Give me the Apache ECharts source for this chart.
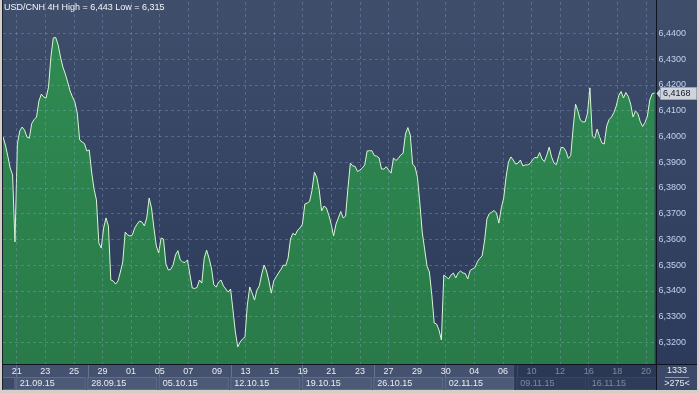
<!DOCTYPE html>
<html><head><meta charset="utf-8">
<script src="https://cdn.jsdelivr.net/npm/echarts@6/dist/echarts.min.js"></script>
<style>
html,body{margin:0;padding:0;background:#d4d0c8;}
#c{width:699px;height:393px;background:linear-gradient(to bottom,#3f4e6b 0px,#2c3a5b 364px,#2c3a5b 393px);}
</style>
</head><body><div id="c"></div>
<script>
const titleText = 'USD/CNH 4H High = 6,443 Low = 6,315';
const closes = [
6.3998,6.3966,6.3923,6.3877,6.3850,6.3590,6.3970,6.4021,6.4036,6.4024,
6.3997,6.3993,6.4050,6.4065,6.4075,6.4137,6.4164,6.4153,6.4149,6.4191,
6.4308,6.4382,6.4384,6.4355,6.4308,6.4269,6.4242,6.4211,6.4176,6.4153,
6.4133,6.4090,6.3986,6.3978,6.3972,6.3943,6.3947,6.3861,6.3795,6.3753,
6.3586,6.3566,6.3644,6.3683,6.3652,6.3442,6.3438,6.3426,6.3438,6.3473,
6.3512,6.3628,6.3617,6.3613,6.3617,6.3644,6.3659,6.3671,6.3667,6.3652,
6.3683,6.3760,6.3722,6.3644,6.3574,6.3547,6.3605,6.3601,6.3504,6.3481,
6.3483,6.3500,6.3539,6.3556,6.3520,6.3512,6.3510,6.3520,6.3465,6.3411,
6.3409,6.3413,6.3442,6.3430,6.3527,6.3558,6.3527,6.3489,6.3423,6.3415,
6.3434,6.3442,6.3419,6.3407,6.3395,6.3407,6.3325,6.3240,6.3182,6.3201,
6.3213,6.3221,6.3345,6.3415,6.3391,6.3364,6.3403,6.3419,6.3465,6.3500,
6.3477,6.3438,6.3391,6.3438,6.3454,6.3469,6.3483,6.3500,6.3498,6.3527,
6.3601,6.3623,6.3617,6.3636,6.3644,6.3659,6.3737,6.3741,6.3747,6.3791,
6.3861,6.3840,6.3791,6.3710,6.3729,6.3722,6.3694,6.3659,6.3613,6.3659,
6.3683,6.3708,6.3683,6.3690,6.3799,6.3896,6.3885,6.3883,6.3863,6.3869,
6.3877,6.3889,6.3943,6.3944,6.3944,6.3925,6.3923,6.3916,6.3873,6.3873,
6.3882,6.3869,6.3857,6.3916,6.3906,6.3914,6.3927,6.3934,6.4009,6.4034,
6.4005,6.3892,6.3881,6.3842,6.3741,6.3628,6.3562,6.3496,6.3473,6.3384,
6.3275,6.3271,6.3248,6.3209,6.3461,6.3454,6.3446,6.3461,6.3469,6.3450,
6.3469,6.3477,6.3469,6.3467,6.3446,6.3479,6.3485,6.3490,6.3512,6.3526,
6.3535,6.3593,6.3679,6.3700,6.3705,6.3712,6.3702,6.3663,6.3722,6.3760,
6.3842,6.3900,6.3920,6.3908,6.3892,6.3896,6.3908,6.3885,6.3889,6.3889,
6.3894,6.3908,6.3918,6.3916,6.3937,6.3912,6.3902,6.3927,6.3958,6.3920,
6.3896,6.3890,6.3925,6.3957,6.3956,6.3942,6.3914,6.3926,6.4032,6.4125,
6.4098,6.4063,6.4056,6.4056,6.4090,6.4188,6.4001,6.3993,6.4028,6.3999,
6.3974,6.3970,6.4040,6.4065,6.4075,6.4092,6.4118,6.4157,6.4174,6.4149,
6.4170,6.4155,6.4125,6.4075,6.4098,6.4089,6.4057,6.4038,6.4054,6.4079,
6.4141,6.4166,6.4168
];
const barCategories = closes.map((_, i) => 'bar ' + (i + 1));

const tradingDays = [
'18.09.15',
'21.09.15','22.09.15','23.09.15','24.09.15','25.09.15',
'28.09.15','29.09.15','30.09.15','01.10.15','02.10.15',
'05.10.15','06.10.15','07.10.15','08.10.15','09.10.15',
'12.10.15','13.10.15','14.10.15','15.10.15','16.10.15',
'19.10.15','20.10.15','21.10.15','22.10.15','23.10.15',
'26.10.15','27.10.15','28.10.15','29.10.15','30.10.15',
'02.11.15','03.11.15','04.11.15','05.11.15','06.11.15',
'09.11.15','10.11.15','11.11.15','12.11.15','13.11.15',
'16.11.15','17.11.15','18.11.15','19.11.15','20.11.15',
'23.11.15'
];
const dayTickDates = ['21.09.15','23.09.15','25.09.15','29.09.15','01.10.15','05.10.15','07.10.15','09.10.15',
'13.10.15','15.10.15','19.10.15','21.10.15','23.10.15','27.10.15','29.10.15','02.11.15','04.11.15','06.11.15',
'10.11.15','12.11.15','16.11.15','18.11.15','20.11.15'];
const dayTickLabels = ['21','23','25','29','01','05','07','09','13','15','19','21','23','27','29','30','04','06',
'10','12','16','18','20'];
const weekStartDates = ['18.09.15','21.09.15','28.09.15','05.10.15','12.10.15','19.10.15','26.10.15','02.11.15','09.11.15','16.11.15'];
const weekLabels = ['','21.09.15','28.09.15','05.10.15','12.10.15','19.10.15','26.10.15','02.11.15','09.11.15','16.11.15'];
const yMin = 6.31, yMax = 6.44, yStep = 0.01;
const lastPrice = closes[closes.length - 1];
const volumeText = '1333';
const barCountText = '>275<';

const FONT = 'Liberation Sans, Arial, sans-serif';
const fmt = v => v.toFixed(4).replace('.', ',');
const gridLine = {color: 'rgba(150,172,215,0.33)', type: [3, 3], width: 1};

const chart = echarts.init(document.getElementById('c'), null, {renderer: 'canvas'});
chart.setOption({
  animation: false,
  backgroundColor: 'transparent',
  textStyle: {fontFamily: FONT},
  title: {text: titleText, left: 4, top: 3, padding: 0,
    textStyle: {color: '#f4f6fb', fontSize: 9, fontWeight: 'normal', fontFamily: FONT}},
  grid: [
    {left: 3, right: 44.4, top: 33.3, bottom: 24.95, outerBoundsMode: 'none', containLabel: false},
    {left: 2.4, right: 38.8, top: 2, bottom: 29, outerBoundsMode: 'none', containLabel: false}
  ],
  xAxis: [
    {type: 'category', gridIndex: 0, data: barCategories, boundaryGap: false, show: false},
    {type: 'category', gridIndex: 1, data: tradingDays, boundaryGap: false, position: 'bottom', z: 6,
      axisLine: {show: false},
      axisTick: {show: true, interval: (i) => weekStartDates.includes(tradingDays[i]), length: 25,
        lineStyle: {color: '#67748f', width: 1}},
      axisLabel: {interval: (i) => dayTickDates.includes(tradingDays[i]),
        formatter: (v) => dayTickLabels[dayTickDates.indexOf(v)],
        color: '#e8ecf4', fontSize: 9, margin: 3, fontFamily: FONT, hideOverlap: false},
      splitLine: {show: true, interval: (i) => dayTickDates.includes(tradingDays[i]), lineStyle: gridLine}
    },
    {type: 'category', gridIndex: 1, data: tradingDays, boundaryGap: false, position: 'bottom', z: 6,
      axisLine: {show: false}, axisTick: {show: false}, splitLine: {show: false},
      axisLabel: {interval: (i) => weekStartDates.includes(tradingDays[i]), align: 'left', margin: 14,
        hideOverlap: false, showMaxLabel: true,
        formatter: (v) => {
          const k = weekStartDates.indexOf(v);
          return k === 0 ? '{wf| }' : '{wk|' + weekLabels[k] + '}';
        },
        rich: {
          wk: {width: 65, height: 10, padding: [1, 0, 0, 3], backgroundColor: '#4c5a77', borderColor: '#5f6d8a',
            borderWidth: 1, color: '#e8ecf4', fontSize: 9, fontFamily: FONT, align: 'left'},
          wf: {width: 9, height: 10, padding: [1, 0, 0, 3], backgroundColor: '#3e4b68', borderColor: '#5f6d8a',
            borderWidth: 1, fontSize: 9}
        }
      }
    }
  ],
  yAxis: [
    {type: 'value', gridIndex: 0, position: 'right', min: yMin, max: yMax, interval: yStep, z: 4,
      axisLine: {show: false}, axisTick: {show: false},
      axisLabel: {margin: 4, color: '#c3d1ef', fontSize: 9, fontFamily: FONT, formatter: fmt, showMinLabel: false},
      splitLine: {show: true, lineStyle: gridLine}
    },
    {type: 'value', gridIndex: 1, show: false}
  ],
  series: [
    {type: 'line', xAxisIndex: 0, yAxisIndex: 0, data: closes, symbol: 'none', showSymbol: false, z: 2,
      lineStyle: {color: '#d8f7d0', width: 1},
      areaStyle: {origin: 'start', opacity: 1,
        color: new echarts.graphic.LinearGradient(0, 0, 0, 1, [
          {offset: 0, color: '#2f8a52'}, {offset: 1, color: '#297a48'}])}
    }
  ],
  graphic: [
    {type: 'rect', silent: true, z: 5, shape: {x: 3, y: 365, width: 653, height: 25}, style: {fill: '#45526f'}},
    {type: 'rect', silent: true, z: 7, shape: {x: 657, y: 365, width: 40, height: 25}, style: {fill: '#3b4868'}},
    {type: 'rect', silent: true, z: 9, shape: {x: 514, y: 365, width: 142, height: 25}, style: {fill: 'rgba(16,30,62,0.5)'}},
    {type: 'line', silent: true, z: 10, shape: {x1: 2, y1: 364.5, x2: 697, y2: 364.5}, style: {stroke: '#0f1420', lineWidth: 1}},
    {type: 'line', silent: true, z: 10, shape: {x1: 656.5, y1: 0, x2: 656.5, y2: 390}, style: {stroke: '#0f1420', lineWidth: 1}},
    {type: 'line', silent: true, z: 10, shape: {x1: 2.5, y1: 0, x2: 2.5, y2: 390}, style: {stroke: '#1a2130', lineWidth: 1}},
    {type: 'line', silent: true, z: 10, shape: {x1: 665, y1: 377.5, x2: 689, y2: 377.5}, style: {stroke: '#8a97b3', lineWidth: 1}},
    {type: 'text', silent: true, z: 10, x: 677, y: 371, style: {text: volumeText, fill: '#e6eaf2', font: '9px ' + FONT, align: 'center', verticalAlign: 'middle'}},
    {type: 'text', silent: true, z: 10, x: 677, y: 383.5, style: {text: barCountText, fill: '#e6eaf2', font: '9px ' + FONT, align: 'center', verticalAlign: 'middle'}},
    {type: 'rect', silent: true, z: 11, shape: {x: 0, y: 0, width: 2, height: 393}, style: {fill: '#d4d0c8'}},
    {type: 'rect', silent: true, z: 11, shape: {x: 0, y: 390, width: 699, height: 3}, style: {fill: '#d4d0c8'}},
    {type: 'rect', silent: true, z: 11, shape: {x: 697, y: 0, width: 2, height: 393}, style: {fill: '#d4d0c8'}}
  ]
});

// last-price tag on the right scale, placed through the y scale
const py = Math.round(chart.convertToPixel({yAxisIndex: 0}, lastPrice));
const zr = chart.getZr();
zr.add(new echarts.graphic.Polygon({
  silent: true, z: 100,
  shape: {points: [[656.5, py + 0.5], [660.5, py - 4.5], [660.5, py + 5.5]]},
  style: {fill: '#cfd3da'}
}));
zr.add(new echarts.graphic.Rect({
  silent: true, z: 100,
  shape: {x: 660.5, y: py - 5.5, width: 36, height: 12},
  style: {fill: '#cfd3da', stroke: '#9aa3b3', lineWidth: 1}
}));
zr.add(new echarts.graphic.Text({
  silent: true, z: 101,
  x: 663, y: py + 0.5,
  style: {text: fmt(lastPrice), fill: '#101a2e', font: '9px ' + FONT, align: 'left', verticalAlign: 'middle'}
}));
</script>
</body></html>
